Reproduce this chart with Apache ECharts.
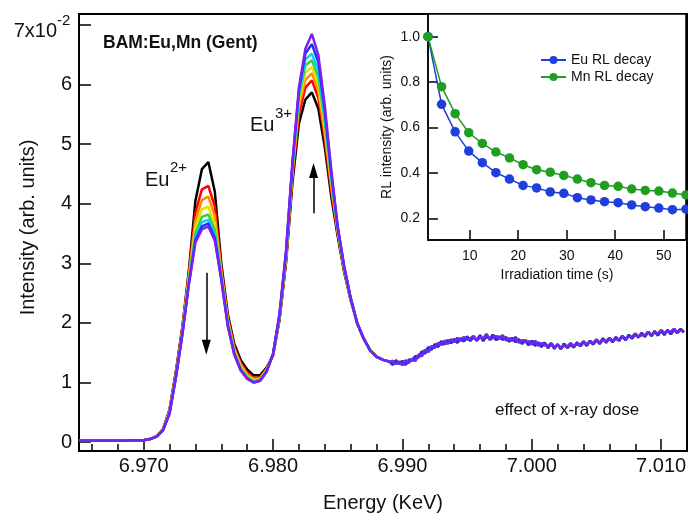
<!DOCTYPE html>
<html>
<head>
<meta charset="utf-8">
<script src="https://cdn.jsdelivr.net/npm/echarts@6/dist/echarts.min.js"></script>
<style>
  html, body { margin: 0; padding: 0; background: #fff; }
  #chart { width: 688px; height: 515px; }
</style>
</head>
<body>
<div id="chart"></div>
<script>
const FONT = '"Liberation Sans", Arial, Helvetica, sans-serif';
const INK = '#111';

// ---- Eu L3-edge XANES spectra, one trace per accumulated x-ray dose ----
// Energy sampling (keV): flat pre-edge, the two white lines, then the EXAFS tail
const preEdgeStart = 6.965, preEdgeStep = 0.0005;
const peakStart = 6.970, peakStep = 0.0005;
const tailStart = 6.98925, tailStep = 0.00025;

const preEdge = [0.02, 0.02, 0.02, 0.02, 0.02, 0.02, 0.02, 0.02, 0.03, 0.03];

// Eu2+ (~6.975 keV) and Eu3+ (~6.983 keV) white lines, first scan to last scan
const peakBlack = [
  0.03, 0.05, 0.10, 0.22, 0.55, 1.20, 1.95, 2.90, 4.05, 4.58,
  4.70, 4.20, 3.00, 2.15, 1.65, 1.38, 1.22, 1.12, 1.12, 1.25,
  1.45, 2.05, 3.00, 4.35, 5.35, 5.75, 5.87, 5.60, 4.95, 4.12,
  3.45, 2.85, 2.38, 2.00, 1.74, 1.55, 1.44, 1.38, 1.35];
const peakRed = [
  0.03, 0.05, 0.10, 0.21, 0.53, 1.17, 1.92, 2.85, 3.85, 4.24,
  4.30, 3.95, 2.92, 2.10, 1.60, 1.33, 1.17, 1.08, 1.09, 1.23,
  1.46, 2.08, 3.05, 4.45, 5.50, 5.95, 6.07, 5.78, 5.08, 4.22,
  3.50, 2.88, 2.39, 2.00, 1.74, 1.55, 1.44, 1.38, 1.35];
const peakOrange = [
  0.03, 0.05, 0.10, 0.21, 0.52, 1.15, 1.89, 2.80, 3.72, 4.06,
  4.12, 3.80, 2.86, 2.06, 1.57, 1.30, 1.14, 1.06, 1.07, 1.22,
  1.46, 2.10, 3.08, 4.52, 5.62, 6.08, 6.19, 5.90, 5.18, 4.30,
  3.53, 2.90, 2.40, 2.00, 1.74, 1.55, 1.44, 1.38, 1.35];
const peakYellow = [
  0.03, 0.05, 0.09, 0.21, 0.51, 1.13, 1.87, 2.76, 3.60, 3.91,
  3.95, 3.66, 2.82, 2.03, 1.54, 1.27, 1.11, 1.04, 1.06, 1.21,
  1.47, 2.11, 3.11, 4.57, 5.72, 6.20, 6.29, 6.00, 5.28, 4.36,
  3.55, 2.91, 2.40, 2.00, 1.74, 1.55, 1.44, 1.38, 1.35];
const peakGreen = [
  0.03, 0.05, 0.09, 0.20, 0.50, 1.12, 1.85, 2.72, 3.50, 3.78,
  3.82, 3.56, 2.79, 2.00, 1.51, 1.24, 1.09, 1.02, 1.05, 1.20,
  1.47, 2.12, 3.14, 4.61, 5.80, 6.32, 6.41, 6.12, 5.38, 4.42,
  3.57, 2.92, 2.41, 2.00, 1.74, 1.54, 1.43, 1.38, 1.35];
const peakCyan = [
  0.03, 0.05, 0.09, 0.20, 0.49, 1.11, 1.84, 2.69, 3.44, 3.69,
  3.73, 3.48, 2.76, 1.98, 1.49, 1.22, 1.08, 1.01, 1.04, 1.19,
  1.48, 2.13, 3.16, 4.64, 5.85, 6.42, 6.52, 6.24, 5.46, 4.47,
  3.59, 2.93, 2.41, 2.00, 1.74, 1.54, 1.43, 1.38, 1.35];
const peakBlue = [
  0.03, 0.05, 0.09, 0.20, 0.48, 1.10, 1.83, 2.67, 3.39, 3.62,
  3.67, 3.43, 2.74, 1.96, 1.48, 1.21, 1.07, 1.00, 1.03, 1.18,
  1.48, 2.14, 3.18, 4.67, 5.90, 6.52, 6.68, 6.38, 5.56, 4.52,
  3.60, 2.94, 2.42, 2.00, 1.74, 1.54, 1.43, 1.38, 1.35];
const peakViolet = [
  0.03, 0.05, 0.09, 0.20, 0.48, 1.10, 1.82, 2.65, 3.35, 3.57,
  3.62, 3.38, 2.72, 1.95, 1.47, 1.20, 1.06, 1.00, 1.03, 1.18,
  1.48, 2.15, 3.20, 4.70, 5.95, 6.60, 6.85, 6.50, 5.65, 4.57,
  3.62, 2.95, 2.42, 2.00, 1.74, 1.54, 1.43, 1.38, 1.35];

// Noisy post-edge oscillation (two recordings, shared by alternating scans)
const tailA = [
  1.30, 1.37, 1.31, 1.36, 1.30, 1.38, 1.37, 1.44, 1.42, 1.52,
  1.49, 1.59, 1.55, 1.64, 1.60, 1.69, 1.64, 1.71, 1.66, 1.73,
  1.67, 1.74, 1.69, 1.77, 1.70, 1.76, 1.71, 1.79, 1.70, 1.78,
  1.73, 1.80, 1.71, 1.77, 1.72, 1.76, 1.69, 1.75, 1.68, 1.72,
  1.65, 1.71, 1.63, 1.70, 1.62, 1.67, 1.60, 1.67, 1.58, 1.65,
  1.57, 1.64, 1.56, 1.65, 1.58, 1.64, 1.59, 1.67, 1.61, 1.68,
  1.62, 1.70, 1.64, 1.71, 1.65, 1.74, 1.67, 1.74, 1.68, 1.76,
  1.70, 1.78, 1.71, 1.80, 1.74, 1.81, 1.76, 1.83, 1.77, 1.85,
  1.78, 1.86, 1.79, 1.87, 1.80, 1.88, 1.81, 1.89, 1.83, 1.90,
  1.84];
const tailB = [
  1.36, 1.31, 1.35, 1.29, 1.37, 1.33, 1.40, 1.36, 1.47, 1.44,
  1.55, 1.51, 1.61, 1.58, 1.66, 1.63, 1.70, 1.65, 1.72, 1.68,
  1.75, 1.70, 1.76, 1.72, 1.74, 1.78, 1.70, 1.76, 1.74, 1.81,
  1.72, 1.75, 1.78, 1.73, 1.79, 1.71, 1.74, 1.70, 1.76, 1.67,
  1.71, 1.68, 1.69, 1.64, 1.70, 1.62, 1.66, 1.63, 1.61, 1.66,
  1.59, 1.63, 1.58, 1.62, 1.60, 1.66, 1.61, 1.65, 1.63, 1.69,
  1.64, 1.68, 1.66, 1.72, 1.67, 1.71, 1.69, 1.75, 1.70, 1.73,
  1.72, 1.78, 1.73, 1.77, 1.76, 1.82, 1.77, 1.80, 1.79, 1.85,
  1.80, 1.84, 1.82, 1.88, 1.83, 1.86, 1.85, 1.90, 1.84, 1.88,
  1.86];

const scanPeaks = [peakBlack, peakRed, peakOrange, peakYellow, peakGreen, peakCyan, peakBlue, peakViolet];
const scanTails = [tailA, tailB, tailA, tailB, tailA, tailB, tailA, tailB];
const scanColors = ['#000000', '#ff0000', '#ff8a00', '#ecdf00', '#3ccf3c', '#00d4ff', '#1a32f0', '#7b1ff2'];

const energyTicks = [6.970, 6.980, 6.990, 7.000, 7.010];
const energyMinorTicks = [6.966, 6.968, 6.972, 6.974, 6.976, 6.978, 6.982, 6.984, 6.986, 6.988,
  6.992, 6.994, 6.996, 6.998, 7.002, 7.004, 7.006, 7.008];
const intensityTicks = [0, 1, 2, 3, 4, 5, 6, 7];
const intensityScale = 'x10';      // top tick carries the 10^-2 multiplier
const intensityExponent = '-2';

// Dose-trend arrows (energy, start intensity, end intensity)
const eu2Arrow = [6.97484, 2.84, 1.59];
const eu3Arrow = [6.98313, 3.84, 4.56];

// ---- Inset: radioluminescence decay under irradiation ----
const irradiationTime = [1.4, 4.2, 7.0, 9.8, 12.6, 15.4, 18.2, 21.0, 23.8, 26.6,
  29.4, 32.2, 35.0, 37.8, 40.6, 43.4, 46.2, 49.0, 51.8, 54.6];
const euDecay = [1.00, 0.702, 0.581, 0.496, 0.445, 0.401, 0.373, 0.345, 0.334, 0.316,
  0.310, 0.291, 0.281, 0.273, 0.269, 0.259, 0.251, 0.245, 0.238, 0.240];
const mnDecay = [1.00, 0.780, 0.661, 0.577, 0.530, 0.492, 0.466, 0.436, 0.414, 0.403,
  0.389, 0.373, 0.357, 0.345, 0.341, 0.329, 0.323, 0.320, 0.311, 0.303];
const timeTicks = [10, 20, 30, 40, 50];
const rlTicks = [0.2, 0.4, 0.6, 0.8, 1.0];

function spectrum(peak, tail) {
  const pts = [];
  preEdge.forEach((v, i) => pts.push([preEdgeStart + i * preEdgeStep, v]));
  peak.forEach((v, i) => pts.push([peakStart + i * peakStep, v]));
  tail.forEach((v, i) => pts.push([tailStart + i * tailStep, v]));
  return pts;
}

const spectraSeries = scanPeaks.map((peak, k) => ({
  type: 'line',
  xAxisIndex: 0,
  yAxisIndex: 0,
  data: spectrum(peak, scanTails[k]),
  showSymbol: false,
  symbol: 'none',
  silent: true,
  lineStyle: { width: 2.5, color: scanColors[k] },
  itemStyle: { color: scanColors[k] },
  z: 2 + k,
  markLine: k === 0 ? {
    silent: true,
    symbol: ['none', 'triangle'],
    symbolSize: [9, 15],
    label: { show: false },
    lineStyle: { color: '#000', width: 1.5, type: 'solid' },
    data: [eu2Arrow, eu3Arrow].map(a => [{ coord: [a[0], a[1]] }, { coord: [a[0], a[2]] }])
  } : undefined
}));

const axisText = { color: INK, fontFamily: FONT };
const topTick = intensityTicks[intensityTicks.length - 1];

const option = {
  animation: false,
  backgroundColor: '#fff',
  grid: [
    { left: 79, top: 14, right: 1, bottom: 64, show: true, borderColor: '#000', borderWidth: 2,
      containLabel: false, outerBoundsMode: 'none' },
    { left: 428, top: 14, right: 2, bottom: 275, show: true, borderColor: '#000', borderWidth: 1.5,
      backgroundColor: '#fff', containLabel: false, outerBoundsMode: 'none' }
  ],
  xAxis: [
    {
      gridIndex: 0, type: 'value', position: 'bottom', min: 6.965, max: 7.012,
      axisLine: { onZero: false, lineStyle: { color: '#000', width: 2 } },
      axisTick: { inside: true, length: 12, customValues: energyTicks, lineStyle: { color: '#000', width: 1.5 } },
      axisLabel: { customValues: energyTicks, formatter: v => v.toFixed(3), fontSize: 20, margin: 5, ...axisText },
      splitLine: { show: false },
      name: 'Energy (KeV)', nameLocation: 'middle', nameGap: 42,
      nameTextStyle: { fontSize: 20, ...axisText }
    },
    {
      gridIndex: 0, type: 'value', position: 'bottom', min: 6.965, max: 7.012,
      axisLine: { show: false, onZero: false },
      axisTick: { inside: true, length: 7, customValues: energyMinorTicks, lineStyle: { color: '#000', width: 1.5 } },
      axisLabel: { show: false },
      splitLine: { show: false }
    },
    {
      gridIndex: 1, type: 'value', position: 'bottom', min: 1.4, max: 54.6,
      axisLine: { onZero: false, lineStyle: { color: '#000', width: 1.5 } },
      axisTick: { inside: true, length: 10, customValues: timeTicks, lineStyle: { color: '#000', width: 1.5 } },
      axisLabel: { customValues: timeTicks, fontSize: 14, margin: 9, ...axisText },
      splitLine: { show: false },
      name: 'Irradiation time (s)', nameLocation: 'middle', nameGap: 28,
      nameTextStyle: { fontSize: 14, ...axisText }
    }
  ],
  yAxis: [
    {
      gridIndex: 0, type: 'value', min: -0.15, max: 7.185,
      axisLine: { onZero: false, lineStyle: { color: '#000', width: 2 } },
      axisTick: { inside: true, length: 12, customValues: intensityTicks, lineStyle: { color: '#000', width: 1.5 } },
      axisLabel: {
        customValues: intensityTicks, margin: 7, fontSize: 20, ...axisText,
        // the top label is drawn separately with its exponent
        formatter: v => (v === topTick ? '' : String(v))
      },
      splitLine: { show: false },
      name: 'Intensity (arb. units)', nameLocation: 'middle', nameGap: 41,
      nameTextStyle: { fontSize: 20, padding: [0, 0, 0, 10], ...axisText }
    },
    {
      gridIndex: 1, type: 'value', min: 0.1044, max: 1.1,
      axisLine: { onZero: false, lineStyle: { color: '#000', width: 1.5 } },
      axisTick: { inside: true, length: 10, customValues: rlTicks, lineStyle: { color: '#000', width: 1.5 } },
      axisLabel: { customValues: rlTicks, formatter: v => v.toFixed(1), fontSize: 14, margin: 8, ...axisText },
      splitLine: { show: false },
      name: 'RL intensity (arb. units)', nameLocation: 'middle', nameGap: 34,
      nameTextStyle: { fontSize: 14, ...axisText }
    }
  ],
  legend: {
    data: ['Eu RL decay', 'Mn RL decay'],
    orient: 'vertical', left: 535, top: 48,
    itemWidth: 25, itemHeight: 10, itemGap: 3,
    textStyle: { fontSize: 14, ...axisText }
  },
  series: [
    ...spectraSeries,
    {
      type: 'line', name: 'Eu RL decay', xAxisIndex: 2, yAxisIndex: 1,
      data: irradiationTime.map((t, i) => [t, euDecay[i]]),
      symbol: 'circle', symbolSize: 9.5, showAllSymbol: true, clip: false,
      lineStyle: { width: 1.5, color: '#1f3fdc' }, itemStyle: { color: '#1f3fdc' }, z: 20
    },
    {
      type: 'line', name: 'Mn RL decay', xAxisIndex: 2, yAxisIndex: 1,
      data: irradiationTime.map((t, i) => [t, mnDecay[i]]),
      symbol: 'circle', symbolSize: 9.5, showAllSymbol: true, clip: false,
      lineStyle: { width: 1.5, color: '#1f9e1f' }, itemStyle: { color: '#1f9e1f' }, z: 21
    }
  ]
};

const chart = echarts.init(document.getElementById('chart'), null, { renderer: 'canvas' });
chart.setOption(option);

// Annotations: the top tick label with its exponent, peak labels and captions
const topY = chart.convertToPixel({ yAxisIndex: 0 }, topTick);
const labelRight = chart.convertToPixel({ xAxisIndex: 0 }, 6.965) - 22;

function txt(x, y, text, size, extra) {
  return {
    type: 'text', x: x, y: y, silent: true,
    style: Object.assign({ text: text, fontSize: size, fontFamily: FONT, fill: INK, verticalAlign: 'middle' }, extra || {})
  };
}

chart.setOption({
  graphic: [
    txt(labelRight, topY + 6, topTick + intensityScale, 20, { align: 'right' }),
    txt(labelRight, topY - 4, intensityExponent, 15, { align: 'left' }),
    txt(103, 43, 'BAM:Eu,Mn (Gent)', 17.5, { fontWeight: 'bold' }),
    txt(495, 410, 'effect of x-ray dose', 17),
    txt(145, 180, 'Eu', 20),
    txt(170, 168, '2+', 15),
    txt(250, 125, 'Eu', 20),
    txt(275, 114, '3+', 15)
  ]
});
</script>
</body>
</html>
